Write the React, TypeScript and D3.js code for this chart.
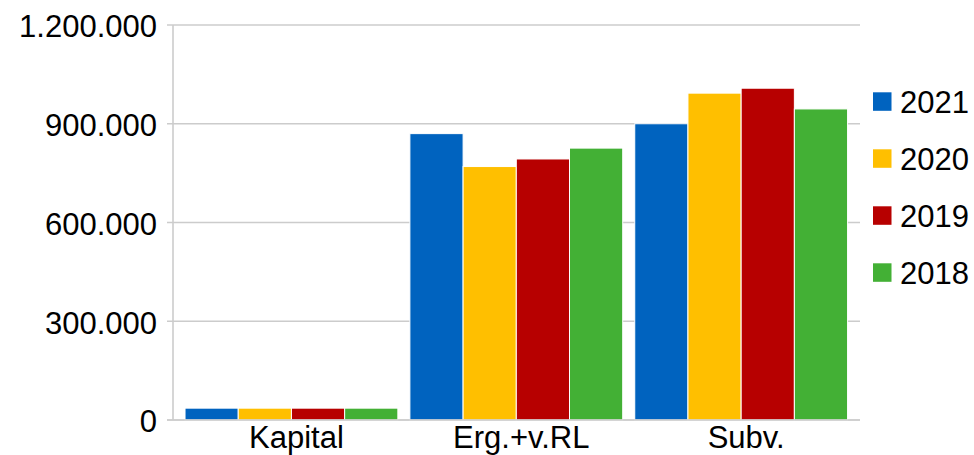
import React from "react";
import * as d3 from "d3";

const categories = ["Kapital", "Erg.+v.RL", "Subv."];
const seriesNames = ["2021", "2020", "2019", "2018"];
const seriesColors = ["#0063BF", "#FFBF00", "#B70000", "#43B035"];
const values2021 = [36000, 870000, 900000];
const values2020 = [36000, 770000, 993000];
const values2019 = [36000, 793000, 1008000];
const values2018 = [36000, 826000, 945000];
const yTicks = [0, 300000, 600000, 900000, 1200000];

const seriesValues = [values2021, values2020, values2019, values2018];

const W = 974;
const H = 455;
const axisX = 173;
const right = 860;
const top = 25;
const bottom = 420;
const font = "'Liberation Sans', Arial, sans-serif";
const fontSize = 31;

const fmt = (v: number) =>
  v === 0 ? "0" : d3.format(",")(v).replace(/,/g, ".");

export default function App() {
  const y = d3.scaleLinear().domain([0, 1200000]).range([bottom, top]);
  const x0 = d3
    .scaleBand()
    .domain(categories)
    .range([179, 853.6])
    .paddingInner(0.0535)
    .paddingOuter(0.0268);
  const x1 = d3.scaleBand().domain(seriesNames).range([0, x0.bandwidth()]);

  return (
    <svg width={W} height={H} style={{ position: "absolute", left: 0, top: 0, background: "#fff" }}>
      {yTicks.map((t) => (
        <g key={t}>
          <line x1={axisX - 6} x2={right} y1={y(t)} y2={y(t)} stroke="#cccccc" strokeWidth={1.6} />
          <text x={157} y={y(t)} dy="0.4em" textAnchor="end" fontFamily={font} fontSize={fontSize} fill="#000">
            {fmt(t)}
          </text>
        </g>
      ))}
      <line x1={axisX} x2={axisX} y1={top} y2={bottom} stroke="#cccccc" strokeWidth={1.6} />
      {categories.map((c, ci) => (
        <g key={c}>
          {seriesNames.map((s, si) => (
            <rect
              key={s}
              x={(x0(c) ?? 0) + (x1(s) ?? 0)}
              y={y(seriesValues[si][ci])}
              width={x1.bandwidth()}
              height={bottom - y(seriesValues[si][ci])}
              fill={seriesColors[si]}
              stroke="#fff"
              strokeWidth={1}
            />
          ))}
          <text
            x={(x0(c) ?? 0) + x0.bandwidth() / 2 + 5}
            y={448}
            textAnchor="middle"
            fontFamily={font}
            fontSize={fontSize}
            fill="#000"
          >
            {c}
          </text>
        </g>
      ))}
      <line x1={axisX - 6} x2={right} y1={bottom} y2={bottom} stroke="#cccccc" strokeWidth={1.6} />
      {seriesNames.map((s, si) => (
        <g key={s} transform={`translate(873, ${92.3 + si * 57})`}>
          <rect x={0} y={0} width={18.5} height={18.5} fill={seriesColors[si]} />
          <text x={27} y={9.3} dy="0.37em" fontFamily={font} fontSize={fontSize} fill="#000">
            {s}
          </text>
        </g>
      ))}
    </svg>
  );
}
